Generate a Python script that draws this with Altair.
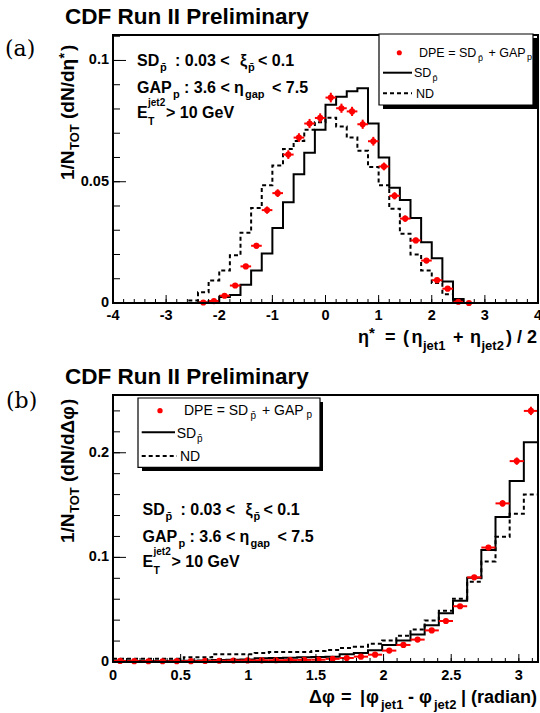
import math
import altair as alt
import pandas as pd

# ---------------- panel (a): eta* distributions ----------------
eta_lo = [-2.8, -2.6, -2.4, -2.2, -2.0, -1.8, -1.6, -1.4, -1.2, -1.0, -0.8, -0.6, -0.4, -0.2,
          0.0, 0.2, 0.4, 0.6, 0.8, 1.0, 1.2, 1.4, 1.6, 1.8, 2.0, 2.2, 2.4, 2.6]
eta_bin = 0.2
sd_eta = [0, 0, 0.0002, 0.0008, 0.0025, 0.0033, 0.0075, 0.0134, 0.0204, 0.0309, 0.0415, 0.0531, 0.0620, 0.0714,
          0.0817, 0.0850, 0.0873, 0.0885, 0.0740, 0.0600, 0.0475, 0.0425, 0.0350, 0.0250, 0.0185, 0.0089, 0.0016, 0]
nd_eta = [0, 0.0010, 0.0044, 0.0093, 0.0134, 0.0197, 0.0290, 0.0392, 0.0485, 0.0567, 0.0635, 0.0668, 0.0714, 0.0745,
          0.0764, 0.0728, 0.0682, 0.0628, 0.0561, 0.0486, 0.0389, 0.0286, 0.0200, 0.0134, 0.0082, 0.0036, 0.0010, 0]
dpe_eta_x = [-2.3, -2.1, -1.9, -1.7, -1.5, -1.3, -1.1, -0.9, -0.7, -0.5, -0.3, -0.1,
             0.1, 0.3, 0.5, 0.7, 0.9, 1.1, 1.3, 1.5, 1.7, 1.9, 2.1, 2.3, 2.5, 2.7]
dpe_eta = [0.0002, 0.0008, 0.0030, 0.0072, 0.0151, 0.0236, 0.0383, 0.0453, 0.0612, 0.0682, 0.0740, 0.0763,
           0.0847, 0.0803, 0.0790, 0.0737, 0.0667, 0.0563, 0.0442, 0.0348, 0.0258, 0.0175, 0.0094, 0.0059, 0.0005, 0.0]
dpe_eta_err = [0.0003, 0.0004, 0.0006, 0.0008, 0.0010, 0.0012, 0.0015, 0.0016, 0.0018, 0.0018, 0.0019, 0.0019,
               0.0020, 0.0019, 0.0019, 0.0019, 0.0018, 0.0016, 0.0015, 0.0013, 0.0011, 0.0009, 0.0007, 0.0006, 0.0003, 0.0002]
eta_major = [-4, -3, -2, -1, 0, 1, 2, 3, 4]
eta_major_lab = ["-4", "-3", "-2", "-1", "0", "1", "2", "3", "4"]
eta_minor = [round(-4 + 0.2 * i, 1) for i in range(41)]
ya_major = [0, 0.05, 0.1]
ya_major_lab = ["0", "0.05", "0.1"]
ya_minor = [round(0.01 * i, 2) for i in range(12)]

# ---------------- panel (b): delta phi distributions ----------------
nphi = 30
phi_bin = math.pi / nphi
phi_lo = [k * phi_bin for k in range(nphi)]
sd_phi = [0.0010, 0.0010, 0.0010, 0.0010, 0.0012, 0.0012, 0.0015, 0.0020, 0.0022, 0.0025, 0.0035, 0.0038, 0.0040,
          0.0045, 0.0048, 0.0050, 0.0075, 0.0085, 0.0112, 0.0163, 0.0205, 0.0262, 0.0352, 0.0467, 0.0585, 0.0805,
          0.1070, 0.1385, 0.1730, 0.2100]
nd_phi = [0.0030, 0.0030, 0.0030, 0.0030, 0.0030, 0.0045, 0.0045, 0.0075, 0.0075, 0.0075, 0.0085, 0.0095, 0.0095,
          0.0095, 0.0105, 0.0115, 0.0135, 0.0145, 0.0175, 0.0205, 0.0250, 0.0310, 0.0397, 0.0489, 0.0605, 0.0768,
          0.0960, 0.1196, 0.1417, 0.1600]
dpe_phi = [0.0010, 0.0008, 0.0007, 0.0007, 0.0008, 0.0008, 0.0010, 0.0012, 0.0014, 0.0015, 0.0016, 0.0017, 0.0018,
           0.0020, 0.0022, 0.0030, 0.0038, 0.0051, 0.0070, 0.0109, 0.0163, 0.0214, 0.0302, 0.0392, 0.0533, 0.0809,
           0.1094, 0.1516, 0.1920, 0.2400]
dpe_phi_err = [0.0005] * 20 + [0.0010, 0.0012, 0.0014, 0.0016, 0.0018, 0.0020, 0.0025, 0.0030, 0.0035, 0.0040]
phi_major = [0, 0.5, 1, 1.5, 2, 2.5, 3]
phi_major_lab = ["0", "0.5", "1", "1.5", "2", "2.5", "3"]
phi_minor = [round(0.1 * i, 1) for i in range(32)]
yb_major = [0, 0.1, 0.2]
yb_major_lab = ["0", "0.1", "0.2"]
yb_minor = [round(0.02 * i, 2) for i in range(13)]

RED = "#ff0000"
FONT = "Liberation Sans"
one = pd.DataFrame({"k": [0]})

# ---------------- scales (pixel ranges place the two frames) ----------------
XA = alt.Scale(domain=[-4, 4], range=[113, 538], nice=False, zero=False)
YA = alt.Scale(domain=[0, 0.1105], range=[303, 35], nice=False, zero=False)
XB = alt.Scale(domain=[0, math.pi], range=[113, 538], nice=False, zero=False)
YB = alt.Scale(domain=[0, 0.2552], range=[662, 395], nice=False, zero=False)


def steps(lo, vals, width):
    rows = []
    for i, (l, v) in enumerate(zip(lo, vals)):
        rows.append({"x": l, "y": v, "o": 2 * i})
        rows.append({"x": l + width, "y": v, "o": 2 * i + 1})
    return pd.DataFrame(rows)


def hist(lo, vals, width, xs, ys, dash=None):
    kw = dict(color="black", strokeWidth=2)
    if dash:
        kw["strokeDash"] = dash
    return alt.Chart(steps(lo, vals, width)).mark_line(**kw).encode(
        x=alt.X("x:Q", scale=xs, axis=None),
        y=alt.Y("y:Q", scale=ys, axis=None),
        order="o:Q",
    )


def points(xc, vals, errs, half, xs, ys):
    df = pd.DataFrame({"x": xc, "y": vals, "lo": [c - half for c in xc], "hi": [c + half for c in xc],
                       "ylo": [v - e for v, e in zip(vals, errs)], "yhi": [v + e for v, e in zip(vals, errs)]})
    base = alt.Chart(df)
    hbar = base.mark_rule(color=RED, strokeWidth=2).encode(
        x=alt.X("lo:Q", scale=xs, axis=None), x2="hi:Q", y=alt.Y("y:Q", scale=ys, axis=None))
    vbar = base.mark_rule(color=RED, strokeWidth=2).encode(
        x=alt.X("x:Q", scale=xs, axis=None), y=alt.Y("ylo:Q", scale=ys, axis=None), y2="yhi:Q")
    dots = base.mark_circle(color=RED, opacity=1, size=38).encode(
        x=alt.X("x:Q", scale=xs, axis=None), y=alt.Y("y:Q", scale=ys, axis=None))
    return [hbar, vbar, dots]


def xticks(vals, xs, ybot, length):
    return alt.Chart(pd.DataFrame({"t": vals})).mark_rule(color="black", strokeWidth=1).encode(
        x=alt.X("t:Q", scale=xs, axis=None), y=alt.value(ybot), y2=alt.value(ybot - length))


def yticks(vals, ys, xleft, length):
    return alt.Chart(pd.DataFrame({"t": vals})).mark_rule(color="black", strokeWidth=1).encode(
        y=alt.Y("t:Q", scale=ys, axis=None), x=alt.value(xleft), x2=alt.value(xleft + length))


def xlabels(vals, labs, xs, y):
    return alt.Chart(pd.DataFrame({"t": vals, "l": labs})).mark_text(
        font=FONT, fontWeight="bold", fontSize=14.5, baseline="middle", align="center", color="black").encode(
        x=alt.X("t:Q", scale=xs, axis=None), y=alt.value(y), text="l:N")


def ylabels(vals, labs, ys, x):
    return alt.Chart(pd.DataFrame({"t": vals, "l": labs})).mark_text(
        font=FONT, fontWeight="bold", fontSize=14.5, baseline="middle", align="right", color="black").encode(
        y=alt.Y("t:Q", scale=ys, axis=None), x=alt.value(x), text="l:N")


def txt(s, x, y, size, weight="bold", angle=0, align="left", font=FONT):
    kw = dict(text=s, fontSize=size, fontWeight=weight, align=align, baseline="alphabetic", font=font, color="black")
    if angle:
        kw["angle"] = angle
    return alt.Chart(one).mark_text(**kw).encode(x=alt.value(x), y=alt.value(y))


def box(x1, x2, y1, y2, fill, stroke=None, sw=1.0):
    kw = dict(fill=fill)
    if stroke:
        kw.update(stroke=stroke, strokeWidth=sw)
    return alt.Chart(one).mark_rect(**kw).encode(
        x=alt.value(x1), x2=alt.value(x2), y=alt.value(y1), y2=alt.value(y2))


def frame(x1, x2, y1, y2):
    return alt.Chart(one).mark_rect(fillOpacity=0, stroke="black", strokeWidth=2).encode(
        x=alt.value(x1), x2=alt.value(x2), y=alt.value(y1), y2=alt.value(y2))


def seg(x1, x2, y, dash=None):
    kw = dict(color="black", strokeWidth=2)
    if dash:
        kw["strokeDash"] = dash
    return alt.Chart(one).mark_rule(**kw).encode(x=alt.value(x1), x2=alt.value(x2), y=alt.value(y))


def dot(x, y, size):
    return alt.Chart(one).mark_circle(color=RED, opacity=1, size=size).encode(x=alt.value(x), y=alt.value(y))


PB = "p\u0304"
DASH = [4, 3]

# ---------------- panel (a) ----------------
top_layers = [
    hist(eta_lo, nd_eta, eta_bin, XA, YA, DASH),
    hist(eta_lo, sd_eta, eta_bin, XA, YA),
] + points(dpe_eta_x, dpe_eta, dpe_eta_err, eta_bin / 2, XA, YA) + [
    xticks(eta_minor, XA, 303, 4),
    xticks(eta_major, XA, 303, 8),
    yticks(ya_minor, YA, 113, 7),
    yticks(ya_major, YA, 113, 13),
    xlabels(eta_major, eta_major_lab, XA, 316),
    ylabels(ya_major, ya_major_lab, YA, 109),
]
top = alt.layer(*top_layers)

# ---------------- panel (b) ----------------
bot_layers = [
    hist(phi_lo, nd_phi, phi_bin, XB, YB, DASH),
    hist(phi_lo, sd_phi, phi_bin, XB, YB),
] + points([l + phi_bin / 2 for l in phi_lo], dpe_phi, dpe_phi_err, phi_bin / 2, XB, YB) + [
    xticks(phi_minor, XB, 662, 4),
    xticks(phi_major, XB, 662, 8),
    yticks(yb_minor, YB, 113, 7),
    yticks(yb_major, YB, 113, 13),
    xlabels(phi_major, phi_major_lab, XB, 676),
    ylabels(yb_major, yb_major_lab, YB, 109),
]
bot = alt.layer(*bot_layers)

# ---------------- decorations ----------------
deco = []
deco += [frame(113, 538, 35, 303), frame(113, 538, 395, 662)]

# titles and panel letters
deco += [txt("CDF Run II Preliminary", 65, 23.5, 22.5), txt("CDF Run II Preliminary", 65, 384, 22.5)]
deco += [txt("(a)", 5, 56, 22, weight="normal", font="DejaVu Serif"),
         txt("(b)", 6, 408, 22, weight="normal", font="DejaVu Serif")]


def annotation(dx, dy):
    parts = [("SD", 137, 66, 16), (PB, 160, 70.5, 11), (": 0.03 <", 175, 66, 16), ("\u03be", 240, 66, 16),
             (PB, 248, 70.5, 11), ("< 0.1", 258, 66, 16),
             ("GAP", 137, 93, 16), ("p", 173, 98, 11), (": 3.6 <", 184, 93, 16), ("\u03b7", 234, 93, 16),
             ("gap", 245, 97.5, 11), ("< 7.5", 272, 93, 16),
             ("E", 137, 118.3, 16), ("jet2", 148, 106, 10), ("T", 148, 124.5, 10.5), ("> 10 GeV", 166, 118.3, 16)]
    return [txt(s, x + dx, y + dy, sz) for s, x, y, sz in parts]


deco += annotation(0, 0) + annotation(5.5, 449)

# legend (a)
deco += [box(383, 537, 38, 109, "black"), box(379, 533, 34, 105, "white", "black", 1.2),
         dot(399.3, 52.7, 26),
         txt("DPE = SD", 419, 57, 12.5, weight="normal"), txt(PB, 478, 60.5, 9, weight="normal"),
         txt("+ GAP", 488.5, 57, 12.5, weight="normal"), txt("p", 527, 60, 9, weight="normal"),
         seg(383, 412, 72.7), txt("SD", 414, 77, 12.5, weight="normal"), txt(PB, 432.5, 80.5, 9, weight="normal"),
         seg(383, 412, 93.3, DASH), txt("ND", 416, 97.5, 12.5, weight="normal")]

# legend (b)
deco += [box(142, 323, 402, 471, "black"), box(138, 320, 398, 467.3, "white", "black", 1.2),
         dot(160, 410.7, 28),
         txt("DPE = SD", 184, 414.5, 14, weight="normal"), txt(PB, 250.5, 418.5, 10, weight="normal"),
         txt("+ GAP", 262, 414.5, 14, weight="normal"), txt("p", 306.5, 418, 10, weight="normal"),
         seg(141.7, 175, 432.3), txt("SD", 176.7, 437.5, 14, weight="normal"),
         txt(PB, 197, 441.5, 10, weight="normal"),
         seg(141.7, 177, 456, DASH), txt("ND", 180, 461, 14, weight="normal")]

# x-axis titles
deco += [txt("\u03b7", 358, 343.3, 18), txt("*", 369, 338, 15), txt("=", 385, 343.3, 18),
         txt("(", 403, 343.3, 18),
         txt("\u03b7", 411.5, 343.3, 18), txt("jet1", 423, 349.5, 13), txt("+", 453, 343.3, 18),
         txt("\u03b7", 470, 343.3, 18), txt("jet2", 481.5, 349.5, 13), txt(") / 2", 537, 343.3, 18, align="right")]
deco += [txt("\u0394\u03c6", 309, 703, 18), txt("=", 341, 703, 18), txt("|", 360, 703, 18),
         txt("\u03c6", 366, 703, 18), txt("jet1", 381, 709, 13), txt("-", 408, 703, 18),
         txt("\u03c6", 419, 703, 18), txt("jet2", 434, 709, 13), txt("| (radian)", 537, 703, 18, align="right")]

# y-axis titles (rotated, reading upward)
deco += [txt("1/N", 74, 180, 19, angle=270), txt("TOT", 78.5, 150, 13, angle=270),
         txt("(dN/d", 74, 119, 19, angle=270), txt("\u03b7", 74, 70.5, 19, angle=270),
         txt("*", 69, 58.5, 14, angle=270), txt(")", 74, 51, 19, angle=270)]
deco += [txt("1/N", 74, 543, 19, angle=270), txt("TOT", 78.5, 513, 13, angle=270),
         txt("(dN/d", 74, 482, 19, angle=270), txt("\u0394\u03c6", 74, 433.5, 19, angle=270),
         txt(")", 74, 405, 19, angle=270)]

chart = alt.layer(top, bot, alt.layer(*deco)).resolve_scale(
    x="independent", y="independent"
).properties(
    width=540, height=713, autosize=alt.AutoSizeParams(type="none"), padding=0
).configure_view(stroke=None)

chart.save("out.html", embed_options={"renderer": "svg", "actions": False})
